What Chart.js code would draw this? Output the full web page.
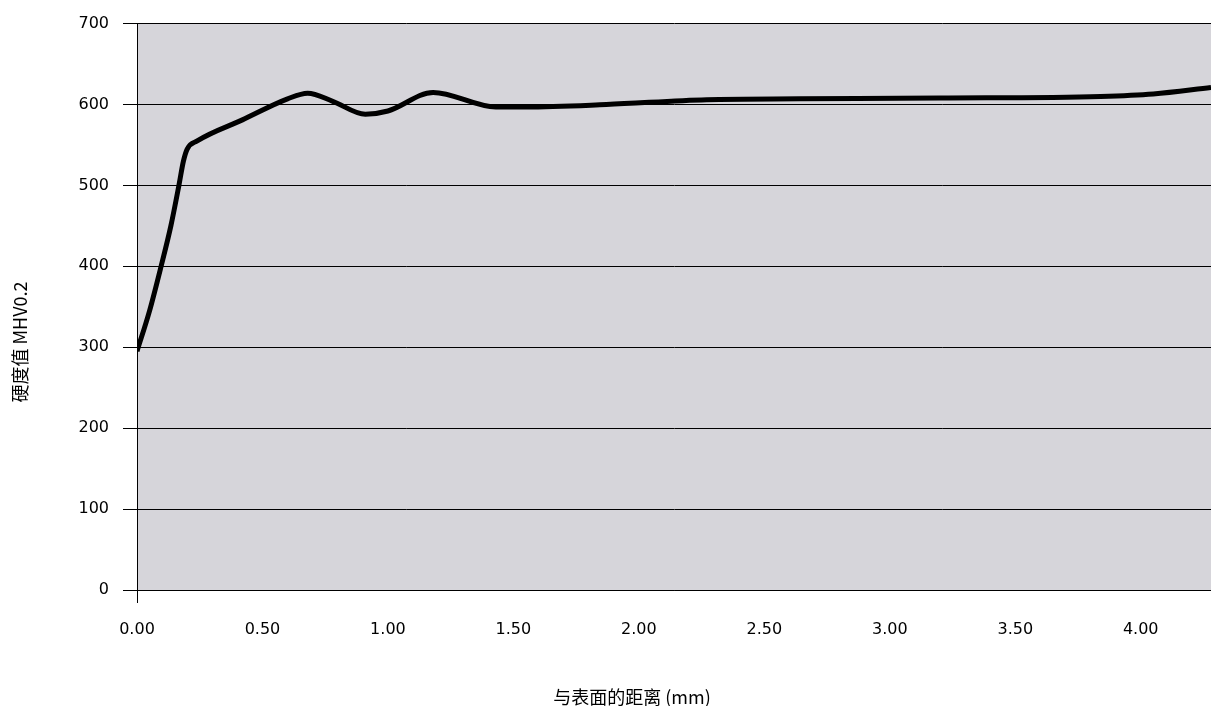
<!DOCTYPE html>
<html>
<head>
<meta charset="utf-8">
<script src="https://cdn.jsdelivr.net/npm/chart.js@4/dist/chart.umd.min.js"></script>
<style>
 html,body{margin:0;padding:0;background:#fff;}
 #wrap{width:1211px;height:706px;}
</style>
</head>
<body>
<div id="wrap"><canvas id="chart"></canvas></div>
<script>
// 与表面的距离 (mm)
const jarak=[0,0.05,0.096,0.135,0.167,0.185,0.2,0.24,0.42,0.6,0.68,0.78,0.91,1.0,1.18,1.43,1.55,1.87,2.27,2.64,3.2,3.84,4.05,4.28];
// 硬度值 MHV0.2
const kekerasan=[295,345,400,450,500,530,545,555,581,607,614,604,588,592,615,597,597,600,606,607,608,610,613,621];
const xTicks=[0,0.5,1,1.5,2,2.5,3,3.5,4];
const yTicks=[0,100,200,300,400,500,600,700];

const judulX="与表面的距离 (mm)";
const judulY="硬度值 MHV0.2";

const titik=jarak.map((x,i)=>({x,y:kekerasan[i]}));

const latar={
 id:"latar",
 beforeDraw(c){
  const a=c.chartArea,ctx=c.ctx;
  ctx.save();
  ctx.fillStyle="#d6d5da";
  ctx.fillRect(a.left,a.top,a.right-a.left,a.bottom-a.top);
  ctx.restore();
 },
 afterDraw(c){
  const ctx=c.ctx;
  ctx.save();
  ctx.fillStyle="#000";
  ctx.font='18px "Noto Sans CJK SC", "DejaVu Sans"';
  ctx.textAlign="center";
  ctx.textBaseline="middle";
  ctx.fillText(judulX,632,697);
  ctx.translate(20,342);
  ctx.rotate(-Math.PI/2);
  ctx.fillText(judulY,0,0);
  ctx.restore();
 }
};

new Chart(document.getElementById("chart"),{
 type:"line",
 data:{datasets:[{
  data:titik,
  borderColor:"#000",
  borderWidth:5,
  pointRadius:0,
  fill:false,
  cubicInterpolationMode:"monotone"
 }]},
 options:{
  responsive:true,
  maintainAspectRatio:false,
  animation:false,
  layout:{padding:{top:19,right:0,bottom:0,left:0}},
  plugins:{legend:{display:false},tooltip:{enabled:false}},
  scales:{
   x:{
    type:"linear",min:0,max:4.28,
    afterBuildTicks(s){s.ticks=xTicks.map(v=>({value:v}));},
    afterFit(s){s.height=116;},
    ticks:{color:"#000",font:{family:"DejaVu Sans",size:16},padding:17,
     callback:v=>v.toFixed(2)},
    grid:{
     color:c=>c.tick&&c.tick.value===0?"#000":"rgba(0,0,0,0)",
     tickLength:13,
     drawOnChartArea:true
    },
    border:{display:true,color:"#000",width:1}
   },
   y:{
    min:0,max:700,
    afterBuildTicks(s){s.ticks=yTicks.map(v=>({value:v}));},
    afterFit(s){s.width=137;},
    ticks:{color:"#000",font:{family:"DejaVu Sans",size:16},padding:14},
    grid:{color:"#000",lineWidth:1,tickLength:14},
    border:{display:true,color:"#000",width:1}
   }
  }
 },
 plugins:[latar]
});
</script>
</body>
</html>
